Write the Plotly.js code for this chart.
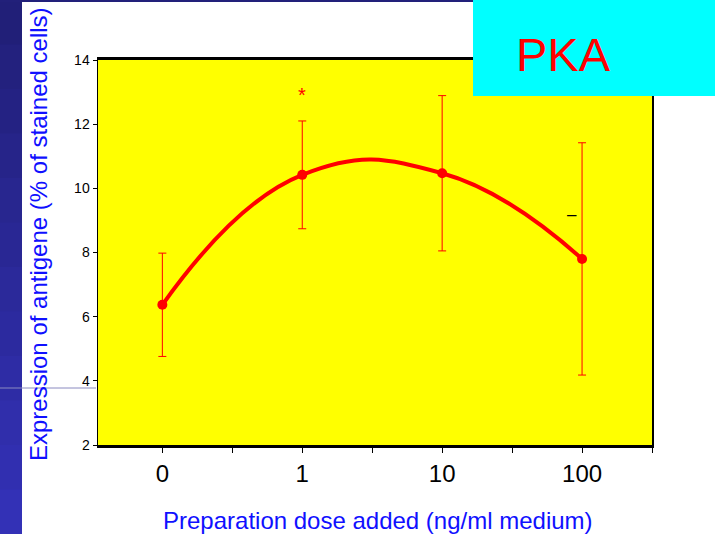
<!DOCTYPE html>
<html>
<head>
<meta charset="utf-8">
<script src="https://cdn.plot.ly/plotly-3.0.1.min.js"></script>
<style>html,body{margin:0;padding:0;background:#fff;}#chart{width:715px;height:534px;}</style>
</head>
<body>
<div id="chart"></div>
<script>
// Data
const doseLabels = ['0', '1', '10', '100'];
const doseIndex = [0, 1, 2, 3];
const expression = [6.37, 10.42, 10.47, 7.8];
const errorSD = [1.61, 1.68, 2.42, 3.62];
const starText = '*';
const starValue = 12.9;

const W = 715, H = 534, L = 98, R = 63, T = 60, B = 89;
const pw = W - L - R, ph = H - T - B;
const px = x => (x - L) / pw;
const py = y => (H - B - y) / ph;

const traces = [
  {
    x: doseIndex, y: expression, type: 'scatter', mode: 'lines',
    line: {color: '#ff0000', width: 4, shape: 'spline', smoothing: 1.3},
    hoverinfo: 'skip', showlegend: false
  },
  {
    x: doseIndex, y: expression, type: 'scatter', mode: 'markers',
    marker: {color: '#ff0000', size: 10},
    error_y: {type: 'data', array: errorSD, visible: true, color: '#ff0000', thickness: 1, width: 4},
    showlegend: false
  }
];

// left stripe gradient bands
const shapes = [];
const nb = 12;
for (let i = 0; i < nb; i++) {
  const t = i / (nb - 1);
  const r = Math.round(0x21 + (0x33 - 0x21) * t);
  const g = Math.round(0x1f + (0x31 - 0x1f) * t);
  const b = Math.round(0x78 + (0xb6 - 0x78) * t);
  shapes.push({type: 'rect', xref: 'paper', yref: 'paper', layer: 'below',
    x0: px(0), x1: px(22), y0: py(Math.min(H, H * (i + 1) / nb + 3)), y1: py(H * i / nb),
    fillcolor: `rgb(${r},${g},${b})`, line: {width: 0}});
}
shapes.push({type: 'rect', xref: 'paper', yref: 'paper', layer: 'below',
  x0: px(0), x1: px(473), y0: py(2), y1: py(0), fillcolor: '#22207a', line: {width: 0}});
shapes.push({type: 'line', xref: 'paper', yref: 'paper', layer: 'below',
  x0: px(0), x1: px(96), y0: py(388), y1: py(388), line: {color: '#8a8ac0', width: 1}});
shapes.push({type: 'rect', xref: 'paper', yref: 'paper', layer: 'above',
  x0: px(473), x1: px(716), y0: py(96), y1: py(-1), fillcolor: '#00ffff', line: {width: 0}});

const annotations = [
  {xref: 'x', yref: 'y', x: doseIndex[1], y: starValue, text: starText, showarrow: false,
   xanchor: 'center', yanchor: 'middle', font: {color: '#ff0000', size: 20}},
  {xref: 'x', yref: 'y', x: 2.93, y: 9.17, text: '–', showarrow: false,
   xanchor: 'center', yanchor: 'middle', font: {color: '#000000', size: 17}},
  {xref: 'paper', yref: 'paper', x: px(38), y: py(234), text: 'Expression of antigene (% of stained cells)',
   textangle: -90, showarrow: false, xanchor: 'center', yanchor: 'middle', font: {color: '#1010ff', size: 24}},
  {xref: 'paper', yref: 'paper', x: px(378), y: py(520), text: 'Preparation dose added (ng/ml medium)',
   showarrow: false, xanchor: 'center', yanchor: 'middle', font: {color: '#1010ff', size: 24}},
  {xref: 'paper', yref: 'paper', x: px(563), y: py(54), text: 'PKA',
   showarrow: false, xanchor: 'center', yanchor: 'middle', font: {color: '#ff0000', size: 47}}
];

const tickvals = [], ticktext = [];
for (let v = 0; v <= 3.5; v += 0.5) {
  tickvals.push(v);
  ticktext.push(Number.isInteger(v) ? doseLabels[v] : '');
}

const layout = {
  width: W, height: H,
  margin: {l: L, r: R, t: T, b: B, pad: 0},
  paper_bgcolor: '#ffffff', plot_bgcolor: '#ffff00',
  font: {family: 'Liberation Sans, Arial, sans-serif', color: '#000'},
  xaxis: {range: [-0.46, 3.5], tickmode: 'array', tickvals: tickvals, ticktext: ticktext,
    showgrid: false, zeroline: false, showline: true, linecolor: '#000', linewidth: 3, mirror: true,
    ticks: 'outside', ticklen: 5, tickcolor: '#000', tickwidth: 1, tickfont: {size: 24, color: '#000'}},
  yaxis: {range: [2, 14], dtick: 2, showgrid: false, zeroline: false, showline: true,
    linecolor: '#000', linewidth: 1.5, mirror: true, ticks: 'outside', ticklen: 4, tickcolor: '#000',
    tickfont: {size: 14, color: '#000'}},
  shapes: shapes,
  annotations: annotations,
  showlegend: false
};

Plotly.newPlot('chart', traces, layout, {staticPlot: true, displayModeBar: false});
</script>
</body>
</html>
